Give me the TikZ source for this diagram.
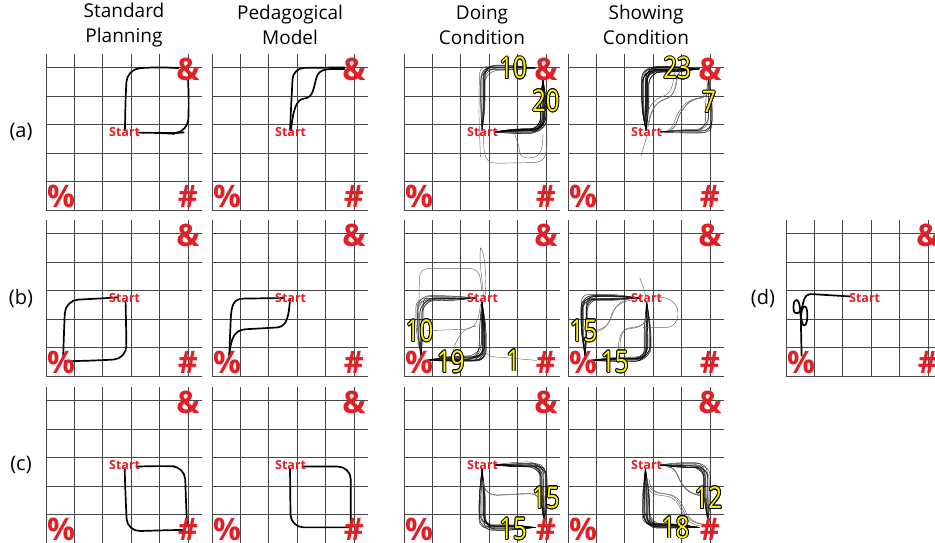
\documentclass[tikz,border=0pt]{standalone}
\usepackage{fontspec}
\setmainfont{Open Sans}
\usetikzlibrary{calc}
\definecolor{symred}{RGB}{226,30,38}
\definecolor{numyel}{RGB}{255,240,0}
\tikzset{
  gridline/.style={draw=black!72, line width=0.9pt},
  sym/.style={text=symred, font=\bfseries\fontsize{31}{31}\selectfont, inner sep=0pt},
  startlbl/.style={text=symred, font=\bfseries\fontsize{12.5}{13}\selectfont, inner sep=0pt},
  thickp/.style={line width=1.7pt, black, line cap=round, line join=round},
  bund/.style={line width=0.45pt, black, opacity=0.75, line cap=round},
  stray/.style={line width=0.45pt, black!60, line cap=round},
  numsty/.style={font=\addfontfeature{FakeStretch=0.8}\fontsize{30}{30}\selectfont, inner sep=0pt},
  hdr/.style={font=\fontsize{19}{25}\selectfont, align=center, inner sep=0pt},
  rowlbl/.style={font=\fontsize{20}{20}\selectfont, inner sep=0pt},
  panel/.style={shift={#1}, x=31.2pt, y=31.2pt},
}
\newcommand\panelsyms[1]{%
  \draw[gridline] (0,0) grid (5,5);
}
\newcommand\panellabels[1]{%
  \node[sym] (#1amp) at (4.55,4.5) {\&};
  \node[sym] (#1pct) at (0.48,0.45) {\%};
  \node[sym] (#1hash) at (4.55,0.45) {\#};
  \node[startlbl] (#1start) at (2.52,2.5) {Start};
}
\newcommand\ynum[3]{%
  \foreach \ang in {0,30,...,330}{\node[numsty,text=black] at ([shift={(\ang:0.85pt)}]#2) {#3};}
  \node[numsty,text=numyel] (#1) at (#2) {#3};
}
\newcommand\bundle[4]{%
  \foreach \i in {1,...,#1}{%
    \pgfmathsetmacro\jx{#2*rand}%
    \pgfmathsetmacro\jy{#3*rand}%
    \pgfmathsetmacro\jr{11+4*rand}%
    \draw[bund, rounded corners=\jr pt] #4;
  }}
\newcommand\strays[3]{%
  \foreach \i in {1,...,#1}{%
    \pgfmathsetmacro\jx{#2*rand}%
    \pgfmathsetmacro\jy{#2*rand}%
    \draw[stray, shift={(\jx,\jy)}] #3;
  }}
\begin{document}
\begin{tikzpicture}[x=1pt,y=1pt]
\useasboundingbox (0,0) rectangle (935,543);
\clip (0,0) rectangle (935,543);
\fill[white] (0,0) rectangle (935,543);
\pgfmathsetseed{11}
% headers
\node[hdr] (h1) at (124,518) {Standard\\Planning};
\node[hdr] (h2) at (290,518) {Pedagogical\\Model};
\node[hdr] (h3) at (482,518) {Doing\\Condition};
\node[hdr] (h4) at (646,518) {Showing\\Condition};
\node[rowlbl] (la) at (21,411) {(a)};
\node[rowlbl] (lb) at (21,245) {(b)};
\node[rowlbl] (lc) at (21,78) {(c)};
\node[rowlbl] (ld) at (763,245) {(d)};

% ===== Row (a) =====
\begin{scope}[panel={(46pt,333pt)}]
  \panelsyms{as}
  \draw[thickp, rounded corners=13pt] (2.53,2.55) -- (2.55,3.6) -- (2.6,4.52) -- (3.5,4.58) -- (4.25,4.55);
  \draw[thickp, rounded corners=13pt] (2.95,2.48) -- (3.7,2.47) -- (4.0,2.45) -- (4.55,2.5) -- (4.58,3.5) -- (4.55,4.25);
  \panellabels{as}
\end{scope}
\begin{scope}[panel={(212pt,333pt)}]
  \panelsyms{ap}
  \draw[thickp, rounded corners=11pt] (2.5,2.55) -- (2.55,3.6) -- (2.6,4.55) -- (4.25,4.57);
  \draw[thickp] (2.53,2.55) .. controls (2.6,3.2) and (2.7,3.55) .. (2.95,3.57) .. controls (3.25,3.6) and (3.25,3.9) .. (3.35,4.25) .. controls (3.45,4.55) and (3.7,4.52) .. (4.25,4.52);
  \panellabels{ap}
\end{scope}
\begin{scope}[panel={(404pt,333pt)}]
  \panelsyms{ad}
  \bundle{10}{0.12}{0.1}{(2.5,2.55) -- (2.5+\jx,3.2) -- (2.5+\jx,4.55+\jy) -- (3.5,4.55+\jy) -- (4.2,4.55)}
  \bundle{20}{0.12}{0.1}{(2.9,2.5) -- (3.5,2.52+\jy) -- (4.47+\jx,2.52+\jy) -- (4.47+\jx,3.5) -- (4.45,4.2)}
  \draw[stray, rounded corners=8pt] (3.0,4.62) -- (2.42,4.6) -- (2.4,3.0) -- (2.45,1.7);
  \draw[stray] (2.55,2.4) .. controls (2.55,1.7) and (2.6,1.5) .. (3.0,1.5) -- (4.2,1.52) .. controls (4.55,1.55) and (4.6,1.8) .. (4.58,2.5);
  \draw[stray] (3.55,2.45) .. controls (3.6,2.2) and (3.7,2.1) .. (3.7,1.9) .. controls (3.7,1.7) and (3.85,1.65) .. (4.1,1.68) .. controls (4.4,1.7) and (4.45,2.0) .. (4.45,2.4);
  \panellabels{ad}
  \ynum{ad1}{3.5,4.55}{10}
  \ynum{ad2}{4.55,3.5}{20}
\end{scope}
\begin{scope}[panel={(568pt,333pt)}]
  \panelsyms{aw}
  \bundle{23}{0.12}{0.1}{(2.5,2.55) -- (2.48+\jx,3.2) -- (2.48+\jx,4.52+\jy) -- (3.5,4.52+\jy) -- (4.2,4.52)}
  \bundle{7}{0.12}{0.1}{(2.95,2.5) -- (3.5,2.5+\jy) -- (4.52+\jx,2.5+\jy) -- (4.52+\jx,3.5) -- (4.5,4.2)}
  \strays{3}{0.07}{(2.52,2.7) .. controls (2.6,3.3) and (2.8,3.5) .. (3.1,3.6) .. controls (3.35,3.7) and (3.4,3.9) .. (3.45,4.3) -- (3.55,4.5)}
  \strays{3}{0.07}{(3.2,2.5) .. controls (3.5,2.6) and (3.45,2.9) .. (3.6,3.1) .. controls (3.8,3.4) and (3.9,3.5) .. (4.2,3.55) .. controls (4.5,3.6) and (4.55,3.8) .. (4.5,4.2)}
  \draw[stray] (2.55,2.5) .. controls (2.5,2.2) and (2.4,2.0) .. (2.35,1.75);
  \panellabels{aw}
  \ynum{aw1}{3.5,4.55}{23}
  \ynum{aw2}{4.52,3.46}{7}
\end{scope}

% ===== Row (b) =====
\begin{scope}[panel={(46pt,167pt)}]
  \panelsyms{bs}
  \draw[thickp, rounded corners=13pt] (2.3,2.52) -- (1.5,2.47) -- (0.62,2.43) -- (0.58,1.5) -- (0.55,0.6);
  \draw[thickp, rounded corners=13pt] (2.55,2.4) -- (2.57,1.5) -- (2.58,0.55) -- (1.7,0.5) -- (0.6,0.47);
  \panellabels{bs}
\end{scope}
\begin{scope}[panel={(212pt,167pt)}]
  \panelsyms{bp}
  \draw[thickp] (2.3,2.5) -- (1.0,2.48) .. controls (0.7,2.47) and (0.62,2.3) .. (0.6,1.8) -- (0.55,0.6);
  \draw[thickp] (2.5,2.45) .. controls (2.45,1.75) and (2.35,1.55) .. (2.0,1.55) -- (1.1,1.5) .. controls (0.7,1.48) and (0.6,1.2) .. (0.55,0.6);
  \panellabels{bp}
\end{scope}
\begin{scope}[panel={(404pt,167pt)}]
  \panelsyms{bd}
  \bundle{10}{0.12}{0.1}{(2.3,2.5) -- (1.5,2.5+\jy) -- (0.5+\jx,2.5+\jy) -- (0.5+\jx,1.5) -- (0.55,0.6)}
  \bundle{19}{0.12}{0.1}{(2.5,2.4) -- (2.52+\jx,1.5) -- (2.52+\jx,0.55+\jy) -- (1.5,0.55+\jy) -- (0.7,0.5)}
  \draw[stray] (2.55,0.9) .. controls (2.6,0.65) and (2.8,0.6) .. (3.1,0.6) -- (4.25,0.5);
  \draw[stray, rounded corners=9pt] (0.45,0.9) -- (0.5,3.45) -- (2.4,3.45) -- (2.5,2.7);
  \draw[stray] (2.55,2.5) .. controls (2.5,3.2) and (2.4,3.7) .. (2.45,4.1) .. controls (2.55,4.0) and (2.65,3.6) .. (2.6,2.5);
  \draw[stray] (0.7,1.45) -- (2.0,1.5) .. controls (2.3,1.55) and (2.4,1.8) .. (2.45,2.3);
  \draw[stray] (2.3,1.6) .. controls (1.9,1.55) and (1.7,1.3) .. (1.55,0.7);
  \panellabels{bd}
  \ynum{bd1}{0.5,1.45}{10}
  \ynum{bd2}{1.5,0.45}{19}
  \ynum{bd3}{3.5,0.5}{1}
\end{scope}
\begin{scope}[panel={(568pt,167pt)}]
  \panelsyms{bw}
  \bundle{15}{0.12}{0.1}{(2.3,2.5) -- (1.5,2.52+\jy) -- (0.52+\jx,2.52+\jy) -- (0.52+\jx,1.5) -- (0.55,0.6)}
  \bundle{15}{0.12}{0.1}{(2.52,2.4) -- (2.55+\jx,1.5) -- (2.55+\jx,0.55+\jy) -- (1.5,0.55+\jy) -- (0.7,0.5)}
  \strays{2}{0.06}{(2.1,2.5) .. controls (1.6,2.4) and (1.5,2.2) .. (1.4,1.9) .. controls (1.3,1.6) and (1.1,1.45) .. (0.7,1.45)}
  \strays{2}{0.06}{(2.5,1.9) .. controls (2.4,1.6) and (2.2,1.6) .. (1.9,1.55) .. controls (1.65,1.5) and (1.6,1.2) .. (1.6,0.7)}
  \draw[stray] (2.9,2.52) .. controls (3.7,2.55) and (3.7,1.55) .. (3.1,1.55) -- (2.4,1.55);
  \draw[stray] (2.5,2.5) .. controls (2.45,2.8) and (2.35,3.0) .. (2.3,3.15);
  \panellabels{bw}
  \ynum{bw1}{0.5,1.45}{15}
  \ynum{bw2}{1.5,0.45}{15}
\end{scope}
\begin{scope}[panel={(786pt,167pt)}]
  \panelsyms{dd}
  \draw[thickp] (2.05,2.55) -- (0.9,2.62) .. controls (0.65,2.65) and (0.6,2.55) .. (0.55,2.35) .. controls (0.5,2.0) and (0.24,1.85) .. (0.24,2.2) .. controls (0.24,2.55) and (0.43,2.5) .. (0.45,2.15) .. controls (0.47,1.8) and (0.55,1.5) .. (0.63,1.65) .. controls (0.72,1.8) and (0.7,2.3) .. (0.57,2.22) .. controls (0.48,2.15) and (0.47,1.9) .. (0.48,1.6) -- (0.5,0.65);
  \panellabels{dd}
\end{scope}

% ===== Row (c) =====
\begin{scope}[panel={(46pt,0pt)}]
  \panelsyms{cs}
  \draw[thickp, rounded corners=13pt] (2.9,2.45) -- (3.7,2.47) -- (4.45,2.45) -- (4.48,1.5) -- (4.52,0.6);
  \draw[thickp, rounded corners=13pt] (2.52,2.4) -- (2.55,1.5) -- (2.6,0.37) -- (3.5,0.4) -- (4.4,0.42);
  \panellabels{cs}
\end{scope}
\begin{scope}[panel={(212pt,0pt)}]
  \panelsyms{cp}
  \draw[thickp, rounded corners=13pt] (2.9,2.45) -- (4.45,2.45) -- (4.45,0.6);
  \draw[thickp, rounded corners=13pt] (2.5,2.4) -- (2.52,0.5) -- (4.4,0.5);
  \panellabels{cp}
\end{scope}
\begin{scope}[panel={(404pt,0pt)}]
  \panelsyms{cd}
  \bundle{15}{0.12}{0.1}{(2.9,2.5) -- (3.5,2.5+\jy) -- (4.47+\jx,2.5+\jy) -- (4.47+\jx,1.5) -- (4.5,0.6)}
  \bundle{15}{0.12}{0.1}{(2.5,2.4) -- (2.5+\jx,1.5) -- (2.5+\jx,0.5+\jy) -- (3.5,0.5+\jy) -- (4.2,0.5)}
  \strays{2}{0.05}{(2.53,2.0) .. controls (2.55,1.7) and (2.7,1.55) .. (3.0,1.55) -- (4.0,1.6) .. controls (4.3,1.6) and (4.4,1.4) .. (4.45,1.2)}
  \draw[stray] (3.8,2.5) .. controls (4.2,2.5) and (4.3,2.4) .. (4.4,2.0);
  \panellabels{cd}
  \ynum{cd1}{4.55,1.45}{15}
  \ynum{cd2}{3.5,0.45}{15}
\end{scope}
\begin{scope}[panel={(568pt,0pt)}]
  \panelsyms{cw}
  \bundle{12}{0.12}{0.1}{(2.95,2.5) -- (3.5,2.52+\jy) -- (4.45+\jx,2.52+\jy) -- (4.45+\jx,1.5) -- (4.5,0.6)}
  \bundle{18}{0.12}{0.1}{(2.48,2.4) -- (2.5+\jx,1.5) -- (2.5+\jx,0.52+\jy) -- (3.5,0.52+\jy) -- (4.2,0.5)}
  \strays{3}{0.06}{(2.55,2.0) .. controls (2.6,1.6) and (2.8,1.55) .. (3.1,1.52) .. controls (3.5,1.5) and (3.6,1.2) .. (3.7,1.0) .. controls (3.85,0.7) and (4.0,0.6) .. (4.3,0.55)}
  \strays{3}{0.06}{(3.2,2.45) .. controls (3.5,2.4) and (3.5,2.1) .. (3.65,1.9) .. controls (3.8,1.65) and (4.0,1.55) .. (4.4,1.5)}
  \panellabels{cw}
  \ynum{cw1}{4.5,1.45}{12}
  \ynum{cw2}{3.45,0.5}{18}
\end{scope}
\end{tikzpicture}
\end{document}
